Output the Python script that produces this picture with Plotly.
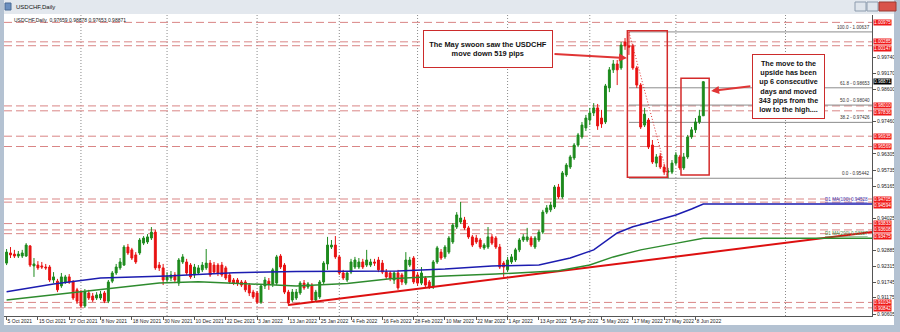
import plotly.graph_objects as go

# ---------------- DATA ----------------
O = [0.9243,0.9279,0.9275,0.9268,0.9268,0.9268,0.9304,0.9233,0.9236,0.9233,
     0.9229,0.9229,0.9183,0.9179,0.9162,0.9176,0.9194,0.9176,0.9148,0.9140,
     0.9091,0.9137,0.9126,0.9119,0.9119,0.9137,0.9108,0.9179,0.9208,0.9226,
     0.9236,0.9300,0.9290,0.9272,0.9279,0.9314,0.9318,0.9332,0.9353,0.9236,
     0.9226,0.9183,0.9190,0.9201,0.9172,0.9247,0.9247,0.9236,0.9201,0.9208,
     0.9219,0.9226,0.9243,0.9236,0.9236,0.9236,0.9226,0.9201,0.9183,0.9183,
     0.9176,0.9176,0.9165,0.9140,0.9137,0.9105,0.9162,0.9179,0.9169,0.9172,
     0.9268,0.9236,0.9140,0.9112,0.9119,0.9137,0.9172,0.9158,0.9165,0.9112,
     0.9123,0.9176,0.9240,0.9300,0.9307,0.9265,0.9208,0.9183,0.9211,0.9229,
     0.9229,0.9247,0.9236,0.9236,0.9247,0.9254,0.9243,0.9211,0.9208,0.9183,
     0.9208,0.9201,0.9172,0.9236,0.9261,0.9201,0.9172,0.9190,0.9176,0.9158,
     0.9247,0.9282,0.9265,0.9282,0.9318,0.9371,0.9389,0.9396,0.9368,0.9336,
     0.9332,0.9325,0.9297,0.9300,0.9336,0.9332,0.9300,0.9243,0.9219,0.9247,
     0.9254,0.9290,0.9325,0.9325,0.9332,0.9300,0.9325,0.9353,0.9424,0.9432,
     0.9442,0.9513,0.9478,0.9556,0.9584,0.9616,0.9662,0.9691,0.9723,0.9751,
     0.9776,0.9794,0.9758,0.9744,0.9865,0.9929,0.9950,0.9936,1.0028,1.0014,
     1.0014,0.9936,0.9875,0.9733,0.9751,0.9662,0.9598,0.9623,0.9584,0.9566,
     0.9566,0.9598,0.9620,0.9581,0.9620,0.9691,0.9716,0.9744,0.97659]
H = [0.9293,0.9300,0.9290,0.9286,0.9290,0.9314,0.9307,0.9261,0.9250,0.9247,
     0.9240,0.9236,0.9211,0.9187,0.9208,0.9201,0.9204,0.9183,0.9155,0.9148,
     0.9151,0.9148,0.9137,0.9140,0.9144,0.9144,0.9183,0.9215,0.9240,0.9261,
     0.9307,0.9311,0.9297,0.9282,0.9332,0.9339,0.9346,0.9371,0.9361,0.9247,
     0.9240,0.9211,0.9215,0.9211,0.9261,0.9275,0.9258,0.9243,0.9240,0.9236,
     0.9247,0.9293,0.9254,0.9247,0.9243,0.9247,0.9233,0.9208,0.9190,0.9190,
     0.9183,0.9183,0.9172,0.9148,0.9144,0.9169,0.9194,0.9190,0.9226,0.9272,
     0.9275,0.9243,0.9148,0.9151,0.9151,0.9179,0.9183,0.9176,0.9172,0.9148,
     0.9183,0.9250,0.9336,0.9325,0.9339,0.9272,0.9219,0.9215,0.9258,0.9265,
     0.9261,0.9258,0.9290,0.9258,0.9258,0.9265,0.9254,0.9222,0.9215,0.9215,
     0.9219,0.9208,0.9282,0.9265,0.9268,0.9211,0.9229,0.9197,0.9183,0.9254,
     0.9304,0.9293,0.9307,0.9339,0.9385,0.9424,0.9460,0.9407,0.9375,0.9343,
     0.9343,0.9332,0.9314,0.9371,0.9346,0.9339,0.9311,0.9250,0.9265,0.9275,
     0.9297,0.9332,0.9346,0.9368,0.9339,0.9339,0.9361,0.9432,0.9449,0.9460,
     0.9520,0.9524,0.9570,0.9598,0.9627,0.9669,0.9705,0.9744,0.9769,0.9794,
     0.9811,0.9808,0.9787,0.9879,0.9939,0.9964,0.9964,1.0028,1.0042,1.00637,
     1.0021,0.9943,0.9882,0.9794,0.9758,0.9680,0.9630,0.9634,0.9595,0.9581,
     0.9609,0.9637,0.9627,0.9634,0.9698,0.9726,0.9758,0.9787,0.98878]
L = [0.9236,0.9261,0.9261,0.9261,0.9261,0.9265,0.9229,0.9194,0.9219,0.9222,
     0.9219,0.9176,0.9172,0.9140,0.9155,0.9169,0.9169,0.9112,0.9098,0.9084,
     0.9084,0.9112,0.9105,0.9112,0.9112,0.9101,0.9101,0.9172,0.9201,0.9219,
     0.9233,0.9272,0.9254,0.9240,0.9272,0.9307,0.9311,0.9325,0.9219,0.9215,
     0.9165,0.9172,0.9179,0.9172,0.9162,0.9240,0.9201,0.9187,0.9190,0.9201,
     0.9211,0.9219,0.9194,0.9204,0.9197,0.9194,0.9183,0.9169,0.9165,0.9162,
     0.9158,0.9140,0.9126,0.9116,0.9098,0.9098,0.9151,0.9148,0.9158,0.9165,
     0.9222,0.9133,0.9091,0.9105,0.9112,0.9130,0.9148,0.9151,0.9105,0.9105,
     0.9116,0.9169,0.9219,0.9293,0.9258,0.9201,0.9183,0.9176,0.9204,0.9222,
     0.9222,0.9222,0.9229,0.9229,0.9233,0.9211,0.9204,0.9187,0.9179,0.9169,
     0.9148,0.9165,0.9165,0.9229,0.9169,0.9162,0.9165,0.9158,0.9151,0.9151,
     0.9240,0.9254,0.9258,0.9275,0.9311,0.9364,0.9382,0.9361,0.9329,0.9300,
     0.9311,0.9293,0.9290,0.9293,0.9307,0.9293,0.9222,0.9194,0.9211,0.9240,
     0.9247,0.9282,0.9318,0.9318,0.9300,0.9293,0.9318,0.9346,0.9417,0.9424,
     0.9435,0.9471,0.9471,0.9549,0.9577,0.9609,0.9655,0.9684,0.9712,0.9733,
     0.9765,0.9716,0.9723,0.9737,0.9850,0.9918,0.9875,0.9929,1.0000,0.9982,
     0.9929,0.9865,0.9719,0.9726,0.9648,0.9595,0.9584,0.9577,0.9556,0.95442,
     0.9559,0.9591,0.9574,0.9574,0.9613,0.9684,0.9705,0.9737,0.97653]
C = [0.9282,0.9272,0.9268,0.9275,0.9279,0.9307,0.9236,0.9240,0.9226,0.9229,
     0.9226,0.9183,0.9194,0.9148,0.9194,0.9194,0.9176,0.9119,0.9108,0.9091,
     0.9140,0.9119,0.9112,0.9130,0.9133,0.9108,0.9176,0.9208,0.9229,0.9247,
     0.9300,0.9279,0.9261,0.9247,0.9325,0.9332,0.9336,0.9353,0.9226,0.9226,
     0.9183,0.9197,0.9201,0.9183,0.9254,0.9265,0.9208,0.9194,0.9229,0.9226,
     0.9236,0.9243,0.9201,0.9211,0.9208,0.9201,0.9190,0.9176,0.9172,0.9172,
     0.9165,0.9148,0.9137,0.9123,0.9105,0.9162,0.9183,0.9169,0.9219,0.9265,
     0.9229,0.9140,0.9101,0.9140,0.9140,0.9172,0.9155,0.9169,0.9112,0.9140,
     0.9176,0.9243,0.9307,0.9307,0.9265,0.9208,0.9190,0.9208,0.9247,0.9254,
     0.9247,0.9229,0.9254,0.9247,0.9243,0.9219,0.9211,0.9194,0.9190,0.9208,
     0.9155,0.9176,0.9254,0.9254,0.9176,0.9172,0.9208,0.9165,0.9158,0.9247,
     0.9297,0.9261,0.9300,0.9332,0.9378,0.9414,0.9403,0.9368,0.9336,0.9307,
     0.9318,0.9300,0.9307,0.9336,0.9314,0.9300,0.9229,0.9229,0.9254,0.9265,
     0.9290,0.9325,0.9336,0.9336,0.9307,0.9332,0.9353,0.9424,0.9439,0.9449,
     0.9513,0.9478,0.9563,0.9591,0.9620,0.9662,0.9698,0.9733,0.9758,0.9776,
     0.9794,0.9730,0.9737,0.9872,0.9929,0.9950,0.9929,1.0017,1.0014,1.0010,
     0.9936,0.9875,0.9726,0.9772,0.9655,0.9602,0.9620,0.9584,0.9566,0.9570,
     0.9598,0.9627,0.9581,0.9620,0.9691,0.9716,0.9744,0.9765,0.98871]

# moving averages (sampled at bar indices)
ma100_idx = [0, 12, 24, 41, 58, 74, 100, 112, 124, 136, 144, 150, 156, 160, 166, 171, 175, 178]
ma100_val = [0.9141, 0.9169, 0.9190, 0.9197, 0.9209, 0.9213, 0.9215, 0.9222, 0.9233, 0.9236,
             0.9261, 0.9290, 0.9350, 0.9372, 0.9394, 0.9414, 0.9435, 0.9453]
ma200_idx = [0, 12, 24, 39, 49, 58, 67, 74, 87, 98, 112, 125, 141, 149, 155, 162, 171, 178]
ma200_val = [0.9112, 0.9130, 0.9148, 0.9172, 0.9177, 0.9171, 0.9165, 0.9162, 0.9171, 0.9187,
             0.9197, 0.9204, 0.9216, 0.9236, 0.9265, 0.9290, 0.9313, 0.9331]
ma100_text = "D1 MA(100) 0.94528"
ma200_text = "D1 MA(200) 0.93307"

# trend line anchors (bar index, price)
trend_idx = [72, 221.1]
trend_val = [0.9094, 0.9353]

# Fibonacci retracement
fib_hi_idx, fib_lo_idx = 159, 169
fib_levels = [1.00637, 0.98653, 0.98040, 0.97426, 0.95442]
fib_labels = ["100.0 - 1.00637", "61.8 - 0.98653", "50.0 - 0.98040", "38.2 - 0.97426", "0.0 - 0.95442"]

# horizontal support / resistance levels
sr_levels = [1.00975, 1.00285, 1.00147, 0.98010, 0.97836, 0.96935, 0.96569,
             0.94705, 0.94594, 0.93833, 0.93608, 0.93475, 0.91034, 0.90842]
current_price = 0.98871

# price axis labels
ytick_vals = [0.90605, 0.91205, 0.91745, 0.92315, 0.92885, 0.94025, 0.95165, 0.95735,
              0.96305, 0.97460, 0.98600, 0.99170, 0.99740]
ytick_text = ["0.90605", "0.91175", "0.91745", "0.92315", "0.92885", "0.94025", "0.95165",
              "0.95735", "0.96305", "0.97460", "0.98600", "0.99170", "0.99740"]

# date axis labels (every 8 bars)
xtick_idx = list(range(0, 177, 8))
xtick_text = ["5 Oct 2021", "15 Oct 2021", "27 Oct 2021", "8 Nov 2021", "18 Nov 2021",
              "30 Nov 2021", "10 Dec 2021", "22 Dec 2021", "3 Jan 2022", "13 Jan 2022",
              "25 Jan 2022", "4 Feb 2022", "16 Feb 2022", "28 Feb 2022", "10 Mar 2022",
              "22 Mar 2022", "1 Apr 2022", "13 Apr 2022", "25 Apr 2022", "5 May 2022",
              "17 May 2022", "27 May 2022", "8 Jun 2022"]
month_idx = [19, 41, 64, 85, 105, 128, 149, 171, 199]

# boxes (bar index / price)
box1 = dict(x0=158.6, x1=168.8, y0=0.95476, y1=1.0068)
box2 = dict(x0=172.3, x1=179.5, y0=0.95557, y1=0.9899)

note1 = "The May swoon saw the USDCHF<br>move down 519 pips"
note2 = ("The move to the<br>upside has been<br>up 6 consecutive<br>days and moved"
         "<br>343 pips from the<br>low to the high....")

X_RANGE = [-0.66, 221.1]
Y_RANGE = [0.90552, 1.012375]

# ---------------- FIGURE ----------------
idx = list(range(len(C)))
FONT = "Liberation Sans, Arial, sans-serif"
W, HGT = 900, 332
ML, MR, MT, MB = 4, 28, 15, 16
PW, PH = W - ML - MR, HGT - MT - MB


def px(xp):
    return (xp - ML) / PW


def py(yp):
    return (HGT - MB - yp) / PH


def price_to_pix(p):
    return MT + (Y_RANGE[1] - p) / (Y_RANGE[1] - Y_RANGE[0]) * PH


fig = go.Figure()

shapes = []
for m in month_idx:
    shapes.append(dict(type="line", xref="x", yref="paper", x0=m, x1=m, y0=0, y1=1,
                       line=dict(color="#8a8a8a", width=1, dash="1px,2px"), layer="below"))
for lv in sr_levels:
    shapes.append(dict(type="line", xref="paper", yref="y", x0=0, x1=1, y0=lv, y1=lv,
                       line=dict(color="#d98585", width=1, dash="8px,4px"), layer="below"))
for lv in fib_levels:
    shapes.append(dict(type="line", xref="x", yref="y", x0=fib_hi_idx, x1=X_RANGE[1], y0=lv, y1=lv,
                       line=dict(color="#8c8c8c", width=1), layer="below"))
shapes.append(dict(type="line", xref="x", yref="y", x0=fib_hi_idx, x1=fib_lo_idx,
                   y0=fib_levels[0], y1=fib_levels[-1],
                   line=dict(color="#e03030", width=1, dash="1px,2px")))
for b in (box1, box2):
    shapes.append(dict(type="rect", xref="x", yref="y", line=dict(color="#d42a2a", width=1.5),
                       fillcolor="rgba(0,0,0,0)", **b))

# window chrome
shapes += [
    dict(type="rect", xref="paper", yref="paper", x0=px(0), x1=px(900), y0=py(0), y1=py(14),
         fillcolor="#e3e8ee", line=dict(width=0), layer="below"),
    dict(type="rect", xref="paper", yref="paper", x0=px(0), x1=px(4), y0=py(0), y1=py(332),
         fillcolor="#b4c2d2", line=dict(width=0)),
    dict(type="rect", xref="paper", yref="paper", x0=px(894), x1=px(900), y0=py(0), y1=py(332),
         fillcolor="#b4c2d2", line=dict(width=0)),
    dict(type="rect", xref="paper", yref="paper", x0=px(0), x1=px(900), y0=py(325), y1=py(332),
         fillcolor="#b4c2d2", line=dict(width=0)),
    dict(type="rect", xref="paper", yref="paper", x0=px(855), x1=px(866), y0=py(2), y1=py(11),
         fillcolor="#dfe5ec", line=dict(color="#8d9cae", width=1)),
    dict(type="rect", xref="paper", yref="paper", x0=px(867), x1=px(878), y0=py(2), y1=py(11),
         fillcolor="#dfe5ec", line=dict(color="#8d9cae", width=1)),
    dict(type="rect", xref="paper", yref="paper", x0=px(879), x1=px(896), y0=py(2), y1=py(11),
         fillcolor="#d9534a", line=dict(color="#9c3a33", width=1)),
    dict(type="rect", xref="paper", yref="paper", x0=px(5), x1=px(11), y0=py(3), y1=py(10),
         fillcolor="#6b8fbf", line=dict(color="#4a6a94", width=1)),
]

fig.add_trace(go.Scatter(x=trend_idx, y=trend_val, mode="lines",
                         line=dict(color="#dd1010", width=2), hoverinfo="skip", showlegend=False))
fig.add_trace(go.Scatter(x=ma200_idx + [X_RANGE[1]], y=ma200_val + [ma200_val[-1]], mode="lines",
                         line=dict(color="#2e8b2e", width=1.5), hoverinfo="skip", showlegend=False))
fig.add_trace(go.Scatter(x=ma100_idx + [X_RANGE[1]], y=ma100_val + [ma100_val[-1]], mode="lines",
                         line=dict(color="#1c1cb0", width=1.5), hoverinfo="skip", showlegend=False))
fig.add_trace(go.Candlestick(
    x=idx, open=O, high=H, low=L, close=C, whiskerwidth=0,
    increasing=dict(line=dict(color="#1d8a1d", width=1), fillcolor="#1d8a1d"),
    decreasing=dict(line=dict(color="#e81212", width=1), fillcolor="#e81212"),
    hoverinfo="skip", showlegend=False))

ann = []
ann.append(dict(xref="paper", yref="paper", x=px(14), y=py(7), xanchor="left", yanchor="middle",
                text="USDCHF,Daily", showarrow=False, font=dict(family=FONT, size=6, color="#111")))
ann.append(dict(xref="paper", yref="paper", x=px(12), y=py(20), xanchor="left", yanchor="middle",
                text="USDCHF,Daily  0.97659 0.98878 0.97653 0.98871", showarrow=False,
                font=dict(family=FONT, size=5, color="#222")))
for lv, t in zip(fib_levels, fib_labels):
    ann.append(dict(xref="paper", yref="y", x=1, y=lv, xanchor="right", yanchor="bottom",
                    text=t, showarrow=False, font=dict(family=FONT, size=4.6, color="#333")))
ann.append(dict(xref="paper", yref="y", x=0.998, y=ma100_val[-1], xanchor="right", yanchor="bottom",
                text="<u>" + ma100_text + "</u>", showarrow=False,
                font=dict(family=FONT, size=4.6, color="#3a3ab8")))
ann.append(dict(xref="paper", yref="y", x=0.998, y=ma200_val[-1], xanchor="right", yanchor="bottom",
                text="<u>" + ma200_text + "</u>", showarrow=False,
                font=dict(family=FONT, size=4.6, color="#3a8a3a")))

# right side price flags, stacked downward so they do not overlap
flags = [(lv, "#f01818") for lv in sr_levels] + [(current_price, "#000000")]
flags.sort(key=lambda f: price_to_pix(f[0]))
orig = [price_to_pix(f[0]) for f in flags]
pos = list(orig)
GAP = 6.4
for k in range(1, len(pos)):
    if pos[k] - pos[k - 1] < GAP:
        pos[k] = pos[k - 1] + GAP
for (lv, col), o0, p0 in zip(flags, orig, pos):
    ann.append(dict(xref="paper", yref="y", x=1, xshift=1, y=lv, yshift=-(p0 - o0),
                    xanchor="left", yanchor="middle",
                    text="%.5f" % lv, showarrow=False, bgcolor=col, borderpad=0,
                    font=dict(family=FONT, size=4.7, color="white")))

ann.append(dict(xref="paper", yref="paper", x=px(488), y=py(48.8), xanchor="center", yanchor="middle",
                text="<b>" + note1 + "</b>", showarrow=False, bgcolor="white",
                bordercolor="#cc2b2b", borderwidth=1, width=126, height=34, align="center",
                font=dict(family=FONT, size=7.4, color="#111")))
ann.append(dict(xref="paper", yref="paper", x=px(788), y=py(86.8), xanchor="center", yanchor="middle",
                text="<b>" + note2 + "</b>", showarrow=False, bgcolor="white",
                bordercolor="#cc2b2b", borderwidth=1, width=69, height=61, align="center",
                font=dict(family=FONT, size=7.2, color="#111")))
ann.append(dict(xref="x", yref="y", x=158.5, y=0.99711, axref="x", ayref="y", ax=139.6, ay=0.99853,
                showarrow=True, arrowhead=2, arrowsize=0.8, arrowwidth=2, arrowcolor="#e03535", text=""))
ann.append(dict(xref="x", yref="y", x=180.0, y=0.98540, axref="x", ayref="y", ax=190.4, ay=0.98717,
                showarrow=True, arrowhead=2, arrowsize=0.8, arrowwidth=2, arrowcolor="#e03535", text=""))

fig.update_layout(
    width=W, height=HGT, margin=dict(l=ML, r=MR, t=MT, b=MB, pad=0),
    paper_bgcolor="white", plot_bgcolor="white", showlegend=False,
    font=dict(family=FONT, size=5, color="#222"),
    shapes=shapes, annotations=ann,
    xaxis=dict(range=X_RANGE, rangeslider=dict(visible=False), showgrid=False, zeroline=False,
               tickmode="array", tickvals=xtick_idx, ticktext=xtick_text, tickangle=0,
               ticks="outside", ticklen=3, tickcolor="#555", tickfont=dict(size=5, color="#222"),
               ticklabelposition="outside right", showline=True, linecolor="#555", linewidth=1),
    yaxis=dict(range=Y_RANGE, side="right", showgrid=False, zeroline=False,
               tickmode="array", tickvals=ytick_vals, ticktext=ytick_text,
               ticks="outside", ticklen=3, tickcolor="#555", tickfont=dict(size=5, color="#222"),
               showline=True, linecolor="#555", linewidth=1),
)

fig.write_html("out.html")
